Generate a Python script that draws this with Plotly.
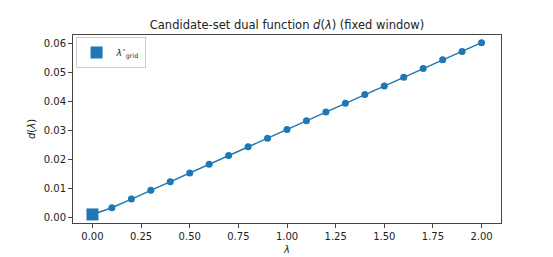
import plotly.graph_objects as go

lam = [0.0, 0.1, 0.2, 0.3, 0.4, 0.5, 0.6, 0.7, 0.8, 0.9, 1.0,
       1.1, 1.2, 1.3, 1.4, 1.5, 1.6, 1.7, 1.8, 1.9, 2.0]
d_vals = [0.0010, 0.0033, 0.0063, 0.0093, 0.0123, 0.0153, 0.0183, 0.0213, 0.0243, 0.0273, 0.0303,
          0.0333, 0.0363, 0.0393, 0.0423, 0.0453, 0.0483, 0.0513, 0.0543, 0.0572, 0.0602]
lam_star = [0.0]
d_star = [0.0010]
x_ticks = [0.0, 0.25, 0.5, 0.75, 1.0, 1.25, 1.5, 1.75, 2.0]
x_tick_labels = ["0.00", "0.25", "0.50", "0.75", "1.00", "1.25", "1.50", "1.75", "2.00"]
y_ticks = [0.0, 0.01, 0.02, 0.03, 0.04, 0.05, 0.06]
y_tick_labels = ["0.00", "0.01", "0.02", "0.03", "0.04", "0.05", "0.06"]

blue = "#1f77b4"
font = "DejaVu Sans"

fig = go.Figure()
fig.add_trace(go.Scatter(x=lam, y=d_vals, mode="lines+markers",
                         line=dict(color=blue, width=1.5),
                         marker=dict(color=blue, size=7),
                         showlegend=False))
fig.add_trace(go.Scatter(x=lam_star, y=d_star, mode="markers",
                         marker=dict(color=blue, size=12, symbol="square"),
                         name="<i>λ</i><sup>⋆</sup><sub>grid</sub>"))

axis_common = dict(showgrid=False, zeroline=False, showline=True, linecolor="#444",
                   linewidth=1, mirror=True, ticks="outside", ticklen=4,
                   tickcolor="#444", tickfont=dict(family=font, size=10, color="#222"))

fig.update_layout(
    width=553, height=257,
    margin=dict(l=65, r=60, t=27, b=33),
    paper_bgcolor="white", plot_bgcolor="white",
    font=dict(family=font, size=10, color="#222"),
    title=dict(text="Candidate-set dual function <i>d</i>(<i>λ</i>) (fixed window)",
               x=(65 + 493) / 2 / 553, xanchor="center", y=1 - 17 / 257, yanchor="middle",
               font=dict(family=font, size=11.5, color="#222")),
    xaxis=dict(range=[-0.1, 2.1], tickvals=x_ticks, ticktext=x_tick_labels,
               title=dict(text="<i>λ</i>", standoff=4, font=dict(size=10)), **axis_common),
    yaxis=dict(range=[-0.00195, 0.06285], tickvals=y_ticks, ticktext=y_tick_labels,
               title=dict(text="<i>d</i>(<i>λ</i>)", standoff=6, font=dict(size=10)), **axis_common),
    legend=dict(x=0.006, y=0.99, xanchor="left", yanchor="top",
                bgcolor="rgba(255,255,255,0.8)", bordercolor="#ccc", borderwidth=1,
                itemwidth=30, font=dict(family=font, size=9)),
)

fig.write_html("out.html")
